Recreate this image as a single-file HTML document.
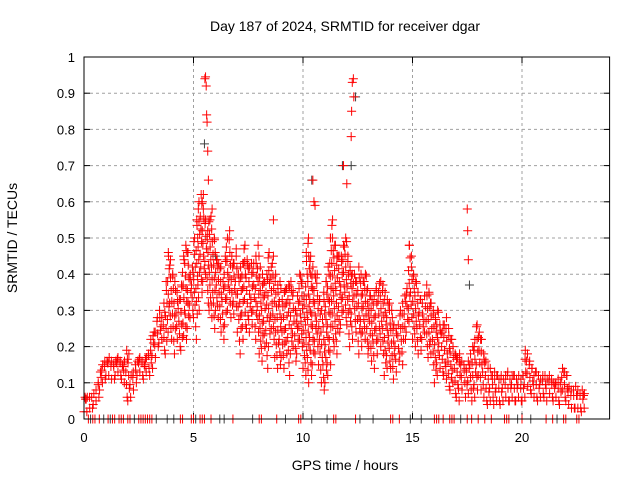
<!DOCTYPE html>
<html><head><meta charset="utf-8"><style>
html,body{margin:0;padding:0;background:#fff;}
svg{display:block;font-family:"Liberation Sans",sans-serif;}
</style></head><body>
<svg id="chart" width="640" height="480">
<rect width="640" height="480" fill="#fff"/>
<text x="345" y="31" font-size="14" text-anchor="middle">Day 187 of 2024, SRMTID for receiver dgar</text>
<text x="345" y="470" font-size="14" text-anchor="middle">GPS time / hours</text>
<text x="17" y="238" font-size="14" text-anchor="middle" transform="rotate(-90 17 238)">SRMTID / TECUs</text>
<g id="grid"></g>
<g id="ticks"></g>
<g id="marks"></g>
<rect x="84" y="57" width="525.6" height="362" fill="none" stroke="#000" stroke-width="1"/>
</svg>
<script>
const xTicks=[0,5,10,15,20];
const yTicks=[0,0.1,0.2,0.3,0.4,0.5,0.6,0.7,0.8,0.9,1];
const yTickLabels=["0","0.1","0.2","0.3","0.4","0.5","0.6","0.7","0.8","0.9","1"];
const hiVals=[.06,.06,.06,.06,.07,.08,.10,.13,.15,.16,
.16,.17,.16,.15,.16,.17,.16,.15,.16,.19,
.18,.12,.13,.15,.16,.17,.16,.15,.17,.18,
.22,.23,.24,.28,.30,.28,.32,.38,.46,.44,
.40,.38,.35,.33,.37,.45,.48,.46,.40,.42,
.50,.55,.60,.62,.58,.55,.52,.55,.58,.50,
.44,.43,.42,.38,.45,.50,.52,.45,.43,.47,
.40,.42,.43,.48,.44,.42,.43,.43,.45,.48,
.42,.40,.38,.40,.46,.42,.45,.40,.37,.38,
.33,.35,.36,.37,.38,.35,.30,.34,.40,.38,
.34,.46,.50,.45,.42,.40,.40,.33,.30,.35,
.38,.42,.50,.55,.48,.45,.45,.45,.48,.50,
.45,.42,.40,.40,.38,.42,.40,.38,.40,.36,
.34,.33,.34,.36,.35,.38,.37,.35,.33,.32,
.30,.26,.25,.26,.30,.32,.34,.36,.48,.45,
.40,.38,.35,.33,.32,.34,.37,.35,.32,.30,
.28,.30,.26,.24,.26,.28,.25,.22,.20,.18,
.17,.18,.16,.15,.14,.16,.18,.20,.22,.26,
.24,.22,.18,.16,.14,.14,.12,.13,.12,.11,
.12,.11,.12,.13,.11,.12,.12,.11,.12,.11,
.12,.19,.18,.16,.14,.12,.13,.12,.11,.12,
.12,.11,.12,.11,.10,.10,.11,.10,.14,.13,
.12,.09,.08,.08,.09,.08,.07,.08,.07];
const loVals=[.02,.02,.03,.03,.04,.05,.06,.08,.10,.11,
.12,.12,.11,.11,.12,.13,.12,.11,.10,.06,
.05,.06,.08,.10,.12,.13,.12,.11,.13,.14,
.12,.14,.17,.20,.21,.22,.19,.18,.24,.25,
.22,.18,.22,.20,.19,.23,.22,.25,.28,.30,
.28,.22,.30,.35,.38,.40,.32,.30,.28,.25,
.30,.28,.24,.22,.26,.30,.32,.28,.29,.31,
.24,.18,.22,.26,.25,.24,.26,.30,.22,.24,
.18,.16,.20,.14,.20,.25,.22,.17,.14,.15,
.17,.14,.18,.12,.18,.20,.16,.18,.22,.20,
.14,.12,.10,.12,.15,.18,.20,.15,.10,.08,
.10,.12,.15,.22,.20,.18,.24,.26,.30,.28,
.26,.20,.22,.27,.24,.18,.20,.24,.22,.18,
.20,.16,.14,.18,.22,.20,.18,.12,.14,.16,
.14,.11,.13,.16,.18,.15,.22,.24,.27,.28,
.22,.20,.18,.19,.22,.24,.20,.17,.18,.15,
.10,.12,.14,.13,.12,.11,.09,.08,.10,.07,
.06,.05,.08,.10,.06,.07,.08,.05,.06,.08,
.12,.08,.06,.05,.04,.05,.06,.04,.05,.05,
.04,.05,.06,.05,.05,.06,.05,.05,.06,.05,
.05,.06,.09,.08,.07,.06,.06,.05,.06,.07,
.06,.05,.07,.06,.05,.06,.05,.04,.08,.06,
.05,.04,.03,.03,.03,.03,.03,.02,.03];
const timeStep=0.1;
const spikeTimes=[5.52,5.55,5.58,5.6,5.62,5.65,5.68,10.45,10.5,10.55,12.2,12.22,12.25,12.3,12.32,11.85,12.0,17.5,17.52,17.55,8.65,5.45,5.4];
const spikeVals=[0.94,0.945,0.92,0.84,0.82,0.74,0.66,0.66,0.6,0.59,0.78,0.85,0.93,0.94,0.89,0.7,0.65,0.58,0.52,0.44,0.55,0.62,0.6];
const graySpikeTimes=[5.5,10.4,11.8,12.2,17.6,12.4,6.0];
const graySpikeVals=[0.76,0.66,0.7,0.7,0.37,0.89,0.45];
const zeroTimes=[0.2,0.4,0.5,0.7,1.1,1.3,1.4,1.6,1.7,1.8,2.0,2.1,2.5,2.6,2.7,2.8,2.9,3.0,3.1,4.4,4.5,4.9,5.0,5.3,5.4,5.5,5.8,6.8,8.0,8.1,8.8,9.8,9.9,11.4,11.5,12.4,14.0,14.1,14.4,16.0,16.1,16.2,16.4,16.7,16.8,16.9,17.5,17.7,18.0,18.3,18.6,19.2,19.3,19.4,20.0,21.1,21.4,21.9,22.0,22.5,22.6];
const grayZeroTimes=[0.3,0.9,1.2,2.3,3.3,3.8,4.1,5.1,6.2,6.4,7.7,9.2,10.4,11.1,12.6,13.2,14.9,15.4,17.2,19.8,20.4,21.6];

const X0=84,X1=609.6,Y0=419,Y1=57,XMAX=24;
const sx=t=>X0+t/XMAX*(X1-X0);
const sy=v=>Y0-v*(Y0-Y1);
const NS="http://www.w3.org/2000/svg";
function mk(tag,attrs,parent){const e=document.createElementNS(NS,tag);for(const k in attrs)e.setAttribute(k,attrs[k]);parent.appendChild(e);return e;}
const grid=document.getElementById('grid'),ticks=document.getElementById('ticks'),marks=document.getElementById('marks');
yTicks.forEach((v,i)=>{
  if(v>0&&v<1){const l=mk('line',{x1:X0,x2:X1,y1:sy(v),y2:sy(v),stroke:'#a0a0a0','stroke-dasharray':'3,3'},grid);
  
  }
  const t1=mk('line',{x1:X0,x2:X0+6,y1:sy(v),y2:sy(v),stroke:'#000'},ticks);
  
  
  const t2=mk('line',{x1:X1-6,x2:X1,y1:sy(v),y2:sy(v),stroke:'#000'},ticks);
  
  
  const tx=mk('text',{x:X0-9,y:sy(v)+5,'font-size':13,'text-anchor':'end'},ticks);
  tx.textContent=yTickLabels[i];
  
  
});
xTicks.forEach(t=>{
  if(t>0){const l=mk('line',{x1:sx(t),x2:sx(t),y1:Y1,y2:Y0,stroke:'#a0a0a0','stroke-dasharray':'3,3'},grid);
  
  }
  const t1=mk('line',{x1:sx(t),x2:sx(t),y1:Y0-6,y2:Y0,stroke:'#000'},ticks);
  
  
  const t2=mk('line',{x1:sx(t),x2:sx(t),y1:Y1,y2:Y1+6,stroke:'#000'},ticks);
  
  
  const tx=mk('text',{x:sx(t),y:Y0+23,'font-size':13,'text-anchor':'middle'},ticks);
  tx.textContent=String(t);
  
  
});
function plus(t,v,color,name){
  const x=sx(t),y=sy(v);
  const p=mk('path',{d:`M${x-4.5},${y}h9M${x},${y-4.5}v9`,stroke:color,'stroke-width':1,fill:'none'},marks);
  
  
}
grayZeroTimes.forEach(t=>plus(t,0,'#404040','gray-zero-point'));
graySpikeTimes.forEach((t,i)=>plus(t,graySpikeVals[i],'#404040','gray-point'));
hiVals.forEach((hi,i)=>{
  const lo=loVals[i];
  const t=i*timeStep;
  let k=0;
  for(let v=lo;v<=hi+1e-9;v+=0.035){
    const dt=((k*37+i*3)%10)/10*timeStep;
    plus(t+dt,v,'#ff0000','red-point');k++;
  }
  plus(t+timeStep*0.5,hi,'#ff0000','red-point');
});
spikeTimes.forEach((t,i)=>plus(t,spikeVals[i],'#ff0000','red-spike-point'));
zeroTimes.forEach(t=>plus(t,0,'#ff0000','red-zero-point'));
</script>
</body></html>
